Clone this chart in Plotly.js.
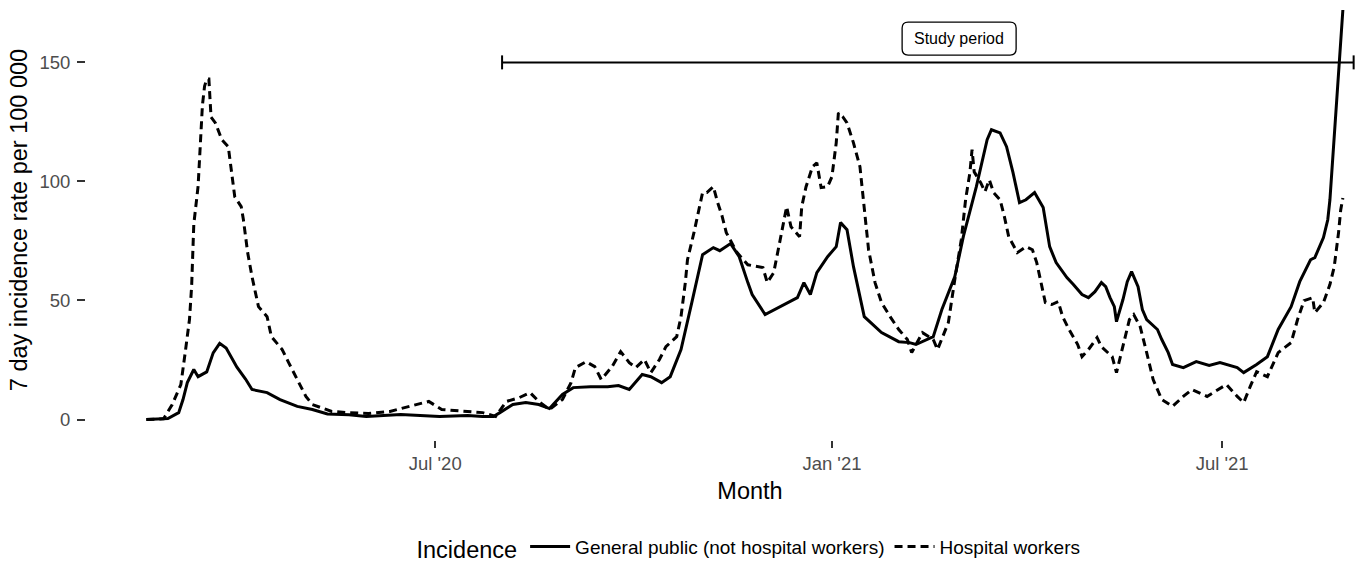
<!DOCTYPE html>
<html>
<head>
<meta charset="utf-8">
<script src="https://cdn.plot.ly/plotly-3.0.1.min.js"></script>
<style>
html, body { margin: 0; padding: 0; overflow: hidden; background: #fff; }
#chart { width: 1420px; height: 588px; }
</style>
</head>
<body>
<div id="chart"></div>
<script>
// General public (not hospital workers): 7 day incidence per 100 000
const gpDates = ['2020-02-18','2020-02-28','2020-03-04','2020-03-06','2020-03-08','2020-03-11','2020-03-13','2020-03-17','2020-03-20','2020-03-23','2020-03-26','2020-03-31','2020-04-04','2020-04-07','2020-04-14','2020-04-20','2020-04-28','2020-05-05','2020-05-12','2020-05-22','2020-05-30','2020-06-15','2020-07-03','2020-07-16','2020-07-23','2020-07-28','2020-07-31','2020-08-06','2020-08-12','2020-08-18','2020-08-23','2020-08-29','2020-09-03','2020-09-11','2020-09-19','2020-09-24','2020-09-29','2020-10-05','2020-10-09','2020-10-14','2020-10-18','2020-10-23','2020-10-28','2020-11-02','2020-11-07','2020-11-10','2020-11-15','2020-11-19','2020-11-23','2020-11-25','2020-12-01','2020-12-08','2020-12-16','2020-12-19','2020-12-22','2020-12-25','2020-12-30','2021-01-03','2021-01-05','2021-01-08','2021-01-11','2021-01-16','2021-01-24','2021-02-01','2021-02-06','2021-02-09','2021-02-17','2021-02-21','2021-02-27','2021-03-03','2021-03-09','2021-03-14','2021-03-16','2021-03-20','2021-03-23','2021-03-26','2021-03-29','2021-04-01','2021-04-05','2021-04-09','2021-04-12','2021-04-15','2021-04-20','2021-04-23','2021-04-27','2021-04-30','2021-05-03','2021-05-06','2021-05-08','2021-05-10','2021-05-12','2021-05-13','2021-05-16','2021-05-18','2021-05-20','2021-05-23','2021-05-25','2021-05-27','2021-06-01','2021-06-03','2021-06-06','2021-06-08','2021-06-13','2021-06-19','2021-06-25','2021-06-30','2021-07-08','2021-07-11','2021-07-17','2021-07-22','2021-07-27','2021-08-02','2021-08-06','2021-08-11','2021-08-13','2021-08-17','2021-08-19','2021-08-20','2021-08-22','2021-08-24','2021-08-25','2021-08-26'];
const gpValues = [0,0.4,2.9,8.4,15.5,21,18,20,28,32,30,22,17,12.6,11.3,8.4,5.5,4.2,2.3,2.0,1.3,2.1,1.3,1.7,1.3,1.3,2.9,6.3,7.1,6.3,4.6,10.5,13.4,13.8,13.8,14.3,12.6,18.9,18,15.5,18,29.4,49.1,69.2,72.2,70.9,73.9,68.4,57.5,52.5,44.1,47.4,51.2,57.5,52.5,61.7,68.4,72.6,82.7,79.7,64.2,43.2,36.5,32.7,32.3,31.5,34.8,46.2,60,77,97.8,117.5,121.7,120.4,114.6,103.7,91.1,92.3,95.3,89,72.6,65.9,59.6,56.7,52.5,51.2,53.7,57.5,55.8,51.2,47.4,41.1,50.4,57.9,62.1,55.8,46.2,42,37.8,33.6,28.1,23.1,21.8,24.3,22.7,23.9,21.8,19.7,23.1,26.4,37.8,47.4,57.9,67.1,68,76.4,83.9,92.3,120.4,148,162,172];

// Hospital workers: 7 day incidence per 100 000
const hwDates = ['2020-02-18','2020-02-26','2020-03-01','2020-03-05','2020-03-07','2020-03-09','2020-03-10','2020-03-11','2020-03-13','2020-03-14','2020-03-15','2020-03-16','2020-03-17','2020-03-18','2020-03-19','2020-03-21','2020-03-24','2020-03-27','2020-03-28','2020-03-30','2020-04-02','2020-04-03','2020-04-05','2020-04-07','2020-04-10','2020-04-14','2020-04-16','2020-04-21','2020-04-24','2020-04-28','2020-05-02','2020-05-05','2020-05-14','2020-05-21','2020-05-31','2020-06-10','2020-06-17','2020-06-22','2020-06-28','2020-07-04','2020-07-16','2020-07-23','2020-07-29','2020-08-03','2020-08-09','2020-08-14','2020-08-18','2020-08-23','2020-08-29','2020-09-02','2020-09-04','2020-09-09','2020-09-13','2020-09-16','2020-09-21','2020-09-25','2020-09-29','2020-10-02','2020-10-06','2020-10-09','2020-10-13','2020-10-16','2020-10-21','2020-10-23','2020-10-25','2020-10-26','2020-10-29','2020-10-31','2020-11-02','2020-11-04','2020-11-07','2020-11-09','2020-11-11','2020-11-13','2020-11-18','2020-11-23','2020-11-30','2020-12-02','2020-12-05','2020-12-08','2020-12-10','2020-12-11','2020-12-13','2020-12-17','2020-12-18','2020-12-20','2020-12-23','2020-12-25','2020-12-27','2020-12-30','2021-01-01','2021-01-03','2021-01-04','2021-01-06','2021-01-08','2021-01-11','2021-01-14','2021-01-16','2021-01-18','2021-01-21','2021-01-24','2021-01-28','2021-02-01','2021-02-05','2021-02-07','2021-02-12','2021-02-17','2021-02-19','2021-02-24','2021-02-27','2021-03-02','2021-03-04','2021-03-06','2021-03-07','2021-03-08','2021-03-11','2021-03-13','2021-03-15','2021-03-17','2021-03-20','2021-03-22','2021-03-24','2021-03-28','2021-04-01','2021-04-04','2021-04-06','2021-04-08','2021-04-10','2021-04-13','2021-04-16','2021-04-18','2021-04-21','2021-04-25','2021-04-27','2021-04-30','2021-05-04','2021-05-06','2021-05-11','2021-05-13','2021-05-16','2021-05-19','2021-05-21','2021-05-24','2021-05-27','2021-05-30','2021-06-03','2021-06-08','2021-06-13','2021-06-17','2021-06-24','2021-06-30','2021-07-03','2021-07-08','2021-07-11','2021-07-14','2021-07-17','2021-07-22','2021-07-27','2021-08-02','2021-08-05','2021-08-08','2021-08-12','2021-08-13','2021-08-17','2021-08-20','2021-08-22','2021-08-24','2021-08-25','2021-08-26'];
const hwValues = [0,0.3,6.3,14.7,28,42,56,82,98,118,132,140,143,143,127,124.6,117.5,114.6,107.8,93.6,89.4,84,70,60,47.4,43.2,34.8,29.4,23.9,16.8,9.7,6.3,3.4,2.9,2.5,3.4,5,6.3,7.6,4.2,3.4,2.9,1.3,7.6,9.2,11.3,7.6,4.2,8.4,15.5,21.8,24.3,22.2,16.8,22.2,28.5,23.9,21.8,25.2,19.7,25.2,30.6,34.8,43.2,57.5,67.1,78.5,86.9,95.3,95.3,97.8,91.1,85.6,78.5,70.1,65,63.8,57.5,61.7,75.5,85.2,89.4,81,76.8,89.4,97.8,106.2,107.8,97.4,97.8,102,116.2,128.8,127.2,124.6,116.2,106.2,89.4,71.3,57.5,49.1,43.2,37.8,33.6,28.1,36.5,33.6,29.4,40.7,58.8,75.5,92.3,103.7,113.3,104,99.5,95.7,100.7,95.3,92.3,85.2,76.8,70.1,72.6,71.3,65.9,57.5,49.1,48.3,49.5,43.2,37.8,31.5,26.4,29.4,34.4,30.6,26.4,19.7,30.6,42,44.1,39,28.1,16.8,8.4,5.5,9.7,12.6,9.7,13,14.7,9.7,7.1,13.8,20.1,18,28.1,32.3,42,49.9,51.2,44.9,49.1,56.7,64.2,78.5,88,93];

// Study period
const studyStart = '2020-08-01';
const studyEnd = '2021-08-31';
const studyLevel = 150;
const studyLabel = 'Study period';
const studyLabelDate = '2021-03-01';
const studyLabelLevel = 160;

// Axis ticks
const xTickVals = ['2020-07-01','2021-01-01','2021-07-01'];
const xTickText = ["Jul '20","Jan '21","Jul '21"];
const yTickVals = [0, 50, 100, 150];

const seriesNames = ['General public (not hospital workers)', 'Hospital workers'];

const FONT = 'Liberation Sans, Arial, Helvetica, sans-serif';

const traces = [
  {
    x: [studyStart, studyEnd], y: [studyLevel, studyLevel],
    type: 'scatter', mode: 'lines+markers', showlegend: false, hoverinfo: 'skip',
    line: {color: '#000', width: 2},
    marker: {symbol: 'line-ns', size: 10, color: '#000', line: {color: '#000', width: 2}}
  },
  {
    x: gpDates, y: gpValues, name: seriesNames[0],
    type: 'scatter', mode: 'lines', hoverinfo: 'skip',
    line: {color: '#000', width: 3, dash: 'solid'}
  },
  {
    x: hwDates, y: hwValues, name: seriesNames[1],
    type: 'scatter', mode: 'lines', hoverinfo: 'skip',
    line: {color: '#000', width: 3, dash: '8px,5px'}
  }
];

const hw = 57, hh = 16.5, rr = 6;
const boxPath = `M ${-hw+rr},${-hh} L ${hw-rr},${-hh} Q ${hw},${-hh} ${hw},${-hh+rr} L ${hw},${hh-rr} Q ${hw},${hh} ${hw-rr},${hh} L ${-hw+rr},${hh} Q ${-hw},${hh} ${-hw},${hh-rr} L ${-hw},${-hh+rr} Q ${-hw},${-hh} ${-hw+rr},${-hh} Z`;

const layout = {
  width: 1420, height: 588,
  margin: {l: 86, r: 6, t: 0, b: 147.5, pad: 0},
  paper_bgcolor: '#fff', plot_bgcolor: '#fff',
  font: {family: FONT, color: '#000'},
  showlegend: true,
  xaxis: {
    type: 'date', range: ['2020-01-21', '2021-09-28'],
    tickmode: 'array', tickvals: xTickVals, ticktext: xTickText,
    ticks: 'outside', ticklen: 7, tickwidth: 2, tickcolor: '#333',
    showgrid: false, zeroline: false, showline: false,
    tickfont: {family: FONT, size: 18.5, color: '#4d4d4d'},
    title: {text: 'Month', font: {family: FONT, size: 23.5, color: '#000'}, standoff: 9},
    automargin: false, fixedrange: true
  },
  yaxis: {
    range: [-8.6, 176.2],
    tickmode: 'array', tickvals: yTickVals,
    ticks: 'outside', ticklen: 8, tickwidth: 2, tickcolor: '#333',
    showgrid: false, zeroline: false, showline: false,
    tickfont: {family: FONT, size: 18.5, color: '#4d4d4d'},
    ticklabelstandoff: 3,
    title: {text: '7 day incidence rate per 100 000', font: {family: FONT, size: 23.5, color: '#000'}, standoff: 5},
    automargin: false, fixedrange: true
  },
  legend: {
    orientation: 'h', x: 0.5, xanchor: 'center', y: -0.246, yanchor: 'middle',
    font: {family: FONT, size: 19, color: '#000'},
    itemwidth: 40,
    title: {text: 'Incidence', side: 'left', font: {family: FONT, size: 23.5, color: '#000'}},
    bgcolor: 'rgba(0,0,0,0)'
  },
  shapes: [{
    type: 'path', xref: 'x', yref: 'y',
    xsizemode: 'pixel', ysizemode: 'pixel',
    xanchor: studyLabelDate, yanchor: studyLabelLevel,
    path: boxPath,
    line: {color: '#000', width: 1.3}, fillcolor: '#fff', layer: 'above'
  }],
  annotations: [{
    x: studyLabelDate, y: studyLabelLevel, xref: 'x', yref: 'y',
    text: studyLabel, showarrow: false,
    font: {family: FONT, size: 16, color: '#000'}
  }]
};

Plotly.newPlot('chart', traces, layout, {displayModeBar: false, staticPlot: true});
</script>
</body>
</html>
